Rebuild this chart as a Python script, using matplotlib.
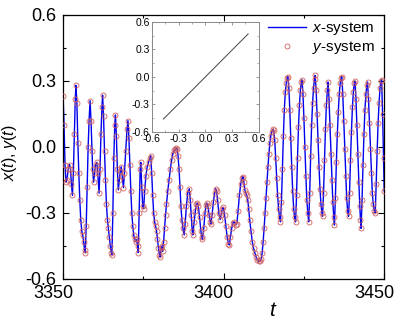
import matplotlib
matplotlib.use("Agg")
import matplotlib.pyplot as plt
from matplotlib.ticker import MultipleLocator
from matplotlib.transforms import ScaledTranslation

plt.rcParams['font.family'] = ['Liberation Sans', 'DejaVu Sans']
plt.rcParams['mathtext.fontset'] = 'custom'
plt.rcParams['mathtext.it'] = 'Liberation Sans:italic'
plt.rcParams['mathtext.rm'] = 'Liberation Sans'

t = [3350.0, 3350.3, 3350.6, 3350.9, 3351.2, 3351.6, 3352.0, 3352.3, 3352.6, 3352.9,
     3353.2, 3353.5, 3353.8, 3354.0, 3354.3, 3354.6, 3354.9, 3355.2, 3355.5, 3355.8,
     3356.1, 3356.4, 3356.7, 3356.9, 3357.2, 3357.5, 3357.8, 3358.1, 3358.4, 3358.7,
     3359.0, 3359.2, 3359.5, 3359.8, 3360.1, 3360.5, 3360.8, 3361.2, 3361.5, 3361.8,
     3362.1, 3362.3, 3362.6, 3362.9, 3363.2, 3363.5, 3363.8, 3364.1, 3364.4, 3364.7,
     3365.0, 3365.2, 3365.5, 3365.8, 3366.1, 3366.3, 3366.6, 3366.9, 3367.2, 3367.5,
     3367.8, 3368.1, 3368.4, 3368.8, 3369.1, 3369.5, 3369.9, 3370.2, 3370.5, 3370.8,
     3371.1, 3371.4, 3371.7, 3372.0, 3372.3, 3372.6, 3372.9, 3373.2, 3373.4, 3373.7,
     3374.0, 3374.2, 3374.5, 3374.8, 3375.1, 3375.4, 3375.8, 3376.2, 3376.6, 3377.0,
     3377.3, 3377.6, 3377.9, 3378.2, 3378.5, 3378.8, 3379.1, 3379.4, 3379.7, 3380.0,
     3380.2, 3380.5, 3380.8, 3381.0, 3381.3, 3381.6, 3381.9, 3382.2, 3382.6, 3383.0,
     3383.4, 3383.8, 3384.2, 3384.6, 3384.9, 3385.2, 3385.5, 3385.8, 3386.1, 3386.4,
     3386.7, 3387.0, 3387.3, 3387.7, 3388.0, 3388.4, 3388.8, 3389.3, 3389.6, 3389.9,
     3390.2, 3390.4, 3390.8, 3391.2, 3391.5, 3391.8, 3392.1, 3392.5, 3392.9, 3393.2,
     3393.4, 3393.8, 3394.2, 3394.5, 3394.8, 3395.1, 3395.5, 3395.8, 3396.0, 3396.4,
     3396.8, 3397.2, 3397.5, 3397.8, 3398.1, 3398.5, 3398.9, 3399.2, 3399.6, 3399.9,
     3400.3, 3400.7, 3401.1, 3401.5, 3401.8, 3402.1, 3402.5, 3402.9, 3403.3, 3403.7,
     3404.1, 3404.5, 3404.9, 3405.3, 3405.7, 3406.0, 3406.3, 3406.6, 3406.9, 3407.2,
     3407.5, 3407.8, 3408.1, 3408.5, 3408.9, 3409.3, 3409.7, 3410.1, 3410.5, 3410.9,
     3411.3, 3411.7, 3412.0, 3412.3, 3412.6, 3412.9, 3413.2, 3413.5, 3413.8, 3414.1,
     3414.4, 3414.7, 3415.0, 3415.3, 3415.6, 3415.9, 3416.2, 3416.5, 3416.8, 3417.1,
     3417.4, 3417.7, 3418.0, 3418.3, 3418.6, 3418.9, 3419.2, 3419.5, 3419.8, 3420.0,
     3420.3, 3420.6, 3420.9, 3421.2, 3421.5, 3421.8, 3422.1, 3422.4, 3422.7, 3423.0,
     3423.3, 3423.6, 3423.9, 3424.2, 3424.4, 3424.7, 3425.0, 3425.3, 3425.6, 3425.9,
     3426.2, 3426.5, 3426.8, 3427.1, 3427.4, 3427.7, 3428.0, 3428.3, 3428.5, 3428.8,
     3429.1, 3429.4, 3429.7, 3430.0, 3430.3, 3430.6, 3430.8, 3431.1, 3431.4, 3431.7,
     3432.0, 3432.3, 3432.5, 3432.8, 3433.1, 3433.4, 3433.7, 3434.0, 3434.3, 3434.5,
     3434.8, 3435.1, 3435.4, 3435.7, 3436.0, 3436.3, 3436.6, 3436.8, 3437.1, 3437.4,
     3437.7, 3438.0, 3438.3, 3438.6, 3438.9, 3439.2, 3439.5, 3439.8, 3440.1, 3440.4,
     3440.7, 3440.9, 3441.2, 3441.5, 3441.8, 3442.1, 3442.4, 3442.6, 3442.8, 3443.1,
     3443.4, 3443.7, 3444.0, 3444.3, 3444.6, 3444.8, 3445.1, 3445.4, 3445.7, 3446.0,
     3446.3, 3446.6, 3446.9, 3447.2, 3447.5, 3447.8, 3448.1, 3448.4, 3448.7, 3449.0,
     3449.2, 3449.5, 3449.8, 3450.0]

x_sys = [0.23, 0.10, -0.08, -0.16, -0.15, -0.10, -0.08, -0.10, -0.17, -0.22,
         -0.12, 0.06, 0.22, 0.28, 0.20, 0.02, -0.12, -0.24, -0.33, -0.38,
         -0.40, -0.43, -0.47, -0.48, -0.36, -0.18, 0.00, 0.12, 0.21, 0.12,
         -0.02, -0.10, -0.16, -0.12, -0.08, -0.07, -0.12, -0.21, -0.10, 0.06,
         0.18, 0.235, 0.14, -0.02, -0.15, -0.26, -0.33, -0.37, -0.41, -0.45,
         -0.48, -0.49, -0.30, -0.05, 0.10, 0.145, 0.05, -0.10, -0.195, -0.15,
         -0.11, -0.09, -0.13, -0.185, -0.12, -0.02, 0.08, 0.12, 0.04, -0.08,
         -0.20, -0.30, -0.36, -0.40, -0.42, -0.43, -0.42, -0.45, -0.48, -0.30,
         -0.10, -0.07, -0.18, -0.27, -0.28, -0.20, -0.13, -0.09, -0.07, -0.05,
         -0.04, -0.12, -0.22, -0.30, -0.34, -0.36, -0.38, -0.42, -0.46, -0.49,
         -0.50, -0.46, -0.45, -0.475, -0.43, -0.37, -0.31, -0.26, -0.20, -0.15,
         -0.10, -0.06, -0.03, -0.015, -0.01, -0.005, -0.01, -0.04, -0.10, -0.18,
         -0.27, -0.33, -0.37, -0.40, -0.35, -0.27, -0.21, -0.19, -0.24, -0.31,
         -0.38, -0.40, -0.34, -0.29, -0.26, -0.255, -0.27, -0.32, -0.38, -0.41,
         -0.42, -0.37, -0.30, -0.265, -0.255, -0.27, -0.31, -0.34, -0.35, -0.31,
         -0.25, -0.21, -0.19, -0.20, -0.24, -0.30, -0.33, -0.31, -0.28, -0.275,
         -0.31, -0.36, -0.41, -0.44, -0.445, -0.41, -0.37, -0.345, -0.34, -0.355,
         -0.35, -0.29, -0.22, -0.17, -0.14, -0.135, -0.16, -0.195, -0.21, -0.22,
         -0.24, -0.28, -0.33, -0.38, -0.43, -0.46, -0.48, -0.50, -0.515, -0.52,
         -0.52, -0.51, -0.48, -0.43, -0.37, -0.30, -0.23, -0.16, -0.09, -0.03,
         0.02, 0.05, 0.07, 0.08, 0.075, 0.03, -0.05, -0.14, -0.22, -0.28,
         -0.32, -0.34, -0.25, -0.10, 0.05, 0.17, 0.25, 0.29, 0.315, 0.32,
         0.27, 0.17, 0.04, -0.09, -0.20, -0.28, -0.32, -0.34, -0.22, -0.05,
         0.09, 0.19, 0.26, 0.295, 0.305, 0.24, 0.13, 0.00, -0.13, -0.24,
         -0.30, -0.34, -0.21, -0.04, 0.10, 0.20, 0.27, 0.31, 0.325, 0.26,
         0.15, 0.03, -0.09, -0.19, -0.26, -0.30, -0.315, -0.21, -0.06, 0.08,
         0.19, 0.26, 0.295, 0.22, 0.10, -0.03, -0.15, -0.25, -0.32, -0.355,
         -0.23, -0.07, 0.06, 0.16, 0.24, 0.29, 0.315, 0.32, 0.24, 0.12,
         -0.01, -0.13, -0.23, -0.29, -0.315, -0.21, -0.06, 0.07, 0.18, 0.25,
         0.29, 0.30, 0.22, 0.10, -0.03, -0.16, -0.27, -0.33, -0.37, -0.24,
         -0.08, 0.06, 0.17, 0.24, 0.28, 0.295, 0.22, 0.11, -0.01, -0.12,
         -0.21, -0.26, -0.29, -0.30, -0.17, -0.02, 0.11, 0.20, 0.27, 0.30,
         0.305, 0.15, -0.05, -0.20]

y_sys = list(x_sys)

inset_x = [-0.47, 0.48]
inset_y = [-0.46, 0.47]

xticks_main = [3350, 3400, 3450]
yticks_main = [-0.6, -0.3, 0.0, 0.3, 0.6]
yticklabels_main = ['-0.6', '-0.3', '0.0', '0.3', '0.6']
ticks_inset = [-0.6, -0.3, 0.0, 0.3, 0.6]
ticklabels_inset = ['-0.6', '-0.3', '0.0', '0.3', '0.6']

fig = plt.figure(figsize=(4.07, 3.24), dpi=100)
ax = fig.add_axes([0.155, 0.139, 0.789, 0.815])

ax.plot(t, x_sys, color='#0000ee', lw=1.0, label='$x$-system', zorder=2)
ax.plot(t, y_sys, linestyle='none', marker='o', ms=3.6, mfc='none',
        mec='#d06060', mew=0.6, label='$y$-system', zorder=3)

ax.set_xlim(3350, 3450)
ax.set_ylim(-0.6, 0.6)
ax.set_xticks(xticks_main)
ax.xaxis.set_minor_locator(MultipleLocator(25))
ax.set_yticks(yticks_main)
ax.set_yticklabels(yticklabels_main)
ax.yaxis.set_minor_locator(MultipleLocator(0.15))
ax.tick_params(which='both', direction='in', top=True, right=True, labelsize=13)
ax.tick_params(which='major', length=4, width=0.8)
ax.tick_params(which='minor', length=2.5, width=0.8)
ax.tick_params(axis='y', pad=5)
ax.tick_params(axis='x', pad=4)
off = ScaledTranslation(-10 / 100, 0, fig.dpi_scale_trans)
for lab in ax.get_xticklabels():
    lab.set_transform(lab.get_transform() + off)
for s in ax.spines.values():
    s.set_linewidth(0.9)
ax.set_xlabel('$t$', fontsize=15)
ax.xaxis.set_label_coords(0.654, -0.085)
ax.set_ylabel('$x$($t$), $y$($t$)', fontsize=11.5)
ax.yaxis.set_label_coords(-0.137, 0.48)

leg = ax.legend(loc='upper right', frameon=False, fontsize=11,
                handlelength=2.5, handletextpad=0.4, borderaxespad=0.2,
                labelspacing=0.15, bbox_to_anchor=(1.0, 1.015))

ins = fig.add_axes([0.373, 0.593, 0.263, 0.339])
ins.plot(inset_x, inset_y, color='#444444', lw=0.7)
ins.set_xlim(-0.6, 0.6)
ins.set_ylim(-0.6, 0.6)
ins.set_xticks(ticks_inset)
ins.set_xticklabels(ticklabels_inset)
ins.set_yticks(ticks_inset)
ins.set_yticklabels(ticklabels_inset)
ins.xaxis.set_minor_locator(MultipleLocator(0.15))
ins.yaxis.set_minor_locator(MultipleLocator(0.15))
ins.tick_params(which='both', direction='in', top=True, right=True,
                labelsize=7.5, pad=1.5, color='#888888')
ins.tick_params(which='major', length=2.5, width=0.6)
ins.tick_params(which='minor', length=1.5, width=0.5)
for s in ins.spines.values():
    s.set_linewidth(0.7)
    s.set_color('#888888')

fig.savefig('out.png', dpi=100)
